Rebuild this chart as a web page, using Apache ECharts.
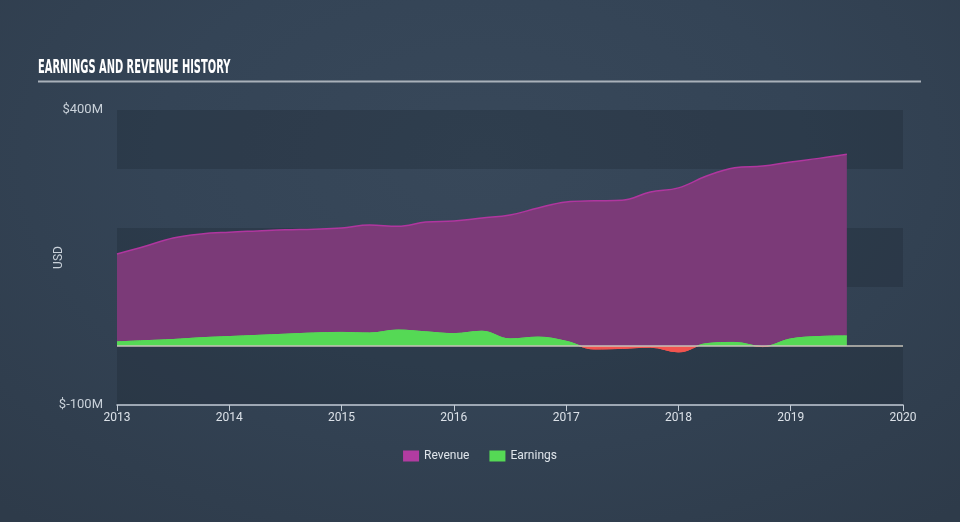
<!DOCTYPE html>
<html>
<head>
<meta charset="utf-8">
<script src="https://cdn.jsdelivr.net/npm/echarts@6/dist/echarts.min.js"></script>
<style>
html,body{margin:0;padding:0;width:960px;height:522px;overflow:hidden;}
body{background:radial-gradient(ellipse 75% 90% at 50% 30%, #38485a 0%, #344456 45%, #2e3b4a 100%);}
#chart{width:960px;height:522px;}
</style>
</head>
<body>
<div id="chart"></div>
<script>
const periods = [2013, 2013.25, 2013.5, 2013.75, 2014, 2014.25, 2014.5, 2014.75, 2015, 2015.25, 2015.5, 2015.75, 2016, 2016.25, 2016.5, 2016.75, 2017, 2017.25, 2017.5, 2017.75, 2018, 2018.25, 2018.5, 2018.75, 2019, 2019.25, 2019.5];
const revenue = [156, 169, 183, 190, 193, 195, 197, 198, 200, 205, 203, 210, 212, 217, 222, 234, 244, 246, 247, 261, 268, 288, 302, 305, 312, 318, 325];
const earnings = [7, 9, 11, 14, 16, 18, 20, 22, 23, 22, 27, 24, 21, 25, 12, 15, 8, -5, -4, -2, -10, 4, 6, -1, 12, 16, 17];
const seriesNames = ['Revenue', 'Earnings'];
const yTickLabels = {400: '$400M', '-100': '$-100M'};
const titleText = 'EARNINGS AND REVENUE HISTORY';

const chart = echarts.init(document.getElementById('chart'), null, {renderer: 'canvas'});
const pair = (vals) => periods.map((p, i) => [p, vals[i]]);
const fontFamily = 'Roboto, "Noto Sans", sans-serif';
const GREEN = '#55d955', RED = '#f2544f';

chart.setOption({
  backgroundColor: 'transparent',
  animation: false,
  graphic: [
    {type: 'text', left: 38, top: 58, scaleX: 0.55,
     style: {text: titleText, fill: '#ffffff', font: 'bold 20px "DejaVu Sans Condensed", "DejaVu Sans", sans-serif'}},
    {type: 'line', shape: {x1: 38, y1: 81.5, x2: 921, y2: 81.5},
     style: {stroke: '#a9b1ba', lineWidth: 2}}
  ],
  grid: {left: 117, right: 57, top: 110, bottom: 117},
  legend: {
    data: seriesNames,
    bottom: 55,
    left: 'center',
    itemWidth: 16, itemHeight: 11, itemGap: 20,
    icon: 'rect',
    textStyle: {color: '#dfe5eb', fontSize: 12, fontFamily: fontFamily}
  },
  xAxis: {
    type: 'value', min: 2013, max: 2020, interval: 1,
    axisLine: {onZero: false, lineStyle: {color: '#c3ccd6', width: 1.5}},
    axisTick: {show: true, length: 6, lineStyle: {color: '#c3ccd6'}},
    splitLine: {show: false},
    axisLabel: {color: '#dbe1e8', fontSize: 12, fontFamily: fontFamily, margin: 7,
                formatter: v => String(v)}
  },
  yAxis: {
    type: 'value', min: -100, max: 400, interval: 100,
    name: 'USD', nameLocation: 'middle', nameGap: 52, nameMoveOverlap: false,
    nameTextStyle: {color: '#c9d1d9', fontSize: 12, fontFamily: fontFamily},
    axisLine: {show: false}, axisTick: {show: false},
    splitLine: {show: false},
    splitArea: {show: true, areaStyle: {color: ['rgba(25,35,48,0.28)', 'rgba(0,0,0,0)']}},
    axisLabel: {color: '#c9d1d9', fontSize: 13, fontFamily: fontFamily, margin: 14,
                formatter: v => yTickLabels[v] || ''}
  },
  series: [
    {
      name: seriesNames[0], type: 'line', data: pair(revenue), smooth: 0.4,
      symbol: 'none', z: 2,
      itemStyle: {color: '#b13ca1'},
      lineStyle: {color: '#b0369f', width: 1.5},
      areaStyle: {color: '#7b3a78', opacity: 1}
    },
    {
      name: seriesNames[1], type: 'line', data: pair(earnings), smooth: 0.4,
      symbol: 'none', z: 3,
      itemStyle: {color: GREEN},
      lineStyle: {width: 1, color: GREEN},
      areaStyle: {opacity: 1, color: GREEN},
      markLine: {
        silent: true, symbol: 'none', label: {show: false},
        lineStyle: {color: '#c6c2b8', width: 1.5, type: 'solid'},
        data: [{yAxis: 0}]
      }
    }
  ]
});

// split earnings colour at the zero line using the axis scale
const y0 = chart.convertToPixel({yAxisIndex: 0}, 0);
const signGrad = () => new echarts.graphic.LinearGradient(0, y0 - 1, 0, y0 + 1, [
  {offset: 0, color: GREEN}, {offset: 0.5, color: GREEN},
  {offset: 0.5, color: RED}, {offset: 1, color: RED}
], true);
chart.setOption({
  series: [{}, {lineStyle: {color: signGrad()}, areaStyle: {color: signGrad()}}]
});
</script>
</body>
</html>
